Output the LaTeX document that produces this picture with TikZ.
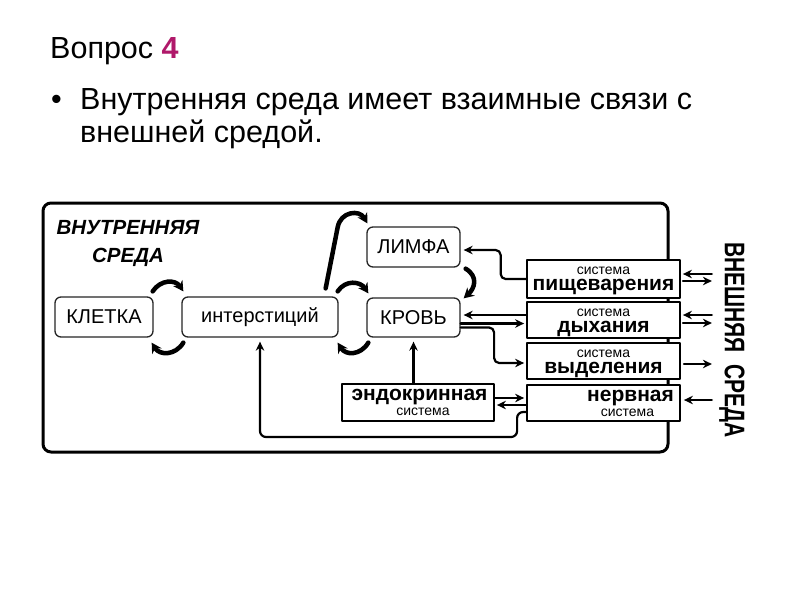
\documentclass[tikz,border=0pt]{standalone}
\usepackage{fontspec}
\setmainfont{Liberation Sans}
\usetikzlibrary{arrows.meta}
\definecolor{vopros}{RGB}{176,24,106}
\begin{document}
\begin{tikzpicture}[x=1pt, y=1pt, line cap=round, line join=round, >={Stealth[length=9pt,width=8.5pt]}]
	\tikzset{box/.style={draw=black!85, line width=1.3pt, rounded corners=6pt, fill=white, inner sep=0pt, font=\fontsize{20}{24}\selectfont},
		sysbox/.style={draw, line width=1.8pt, fill=white, minimum width=153, minimum height=36, inner sep=0pt},
		syssmall/.style={inner sep=0pt, font=\fontsize{14}{14}\selectfont},
		sysname/.style={inner sep=0pt, font=\fontsize{21}{21}\selectfont\bfseries},
		heading/.style={anchor=base west, inner sep=0pt, font=\fontsize{30.5}{30}\selectfont},
		link/.style={->, line width=2.2pt},
		swirl/.style={-{Stealth[length=10pt,width=11pt]}, line width=4.5pt}}
	\fill[white] (0,0) rectangle (800,-600);
	\useasboundingbox (0,0) rectangle (800,-600);
	% heading
	\node[heading] (ti) at (50,-58) {Вопрос {\bfseries\color{vopros}4}};
	\node[heading] (bu) at (51,-109) {•};
	\node[heading] (tx1) at (80,-109) {Внутренняя среда имеет взаимные связи с};
	\node[heading] (tx2) at (80,-142) {внешней средой.};
	% frame
	\draw[line width=3pt, rounded corners=8pt] (43,-203) rectangle (668,-452);
	\node[align=center, font=\fontsize{20.5}{28}\selectfont\bfseries\itshape] (vn) at (128,-243) {ВНУТРЕННЯЯ\\СРЕДА};
	\node[rotate=-90, inner sep=2pt, font=\fontsize{21}{21}\selectfont\bfseries] (vs) at (732,-340) {\scalebox{1}[1.35]{ВНЕШНЯЯ\ \ СРЕДА}};
	% inner boxes
	\node[box, minimum width=98, minimum height=40] (kl) at (104,-317) {КЛЕТКА};
	\node[box, minimum width=156, minimum height=40] (int) at (260,-317) {интерстиций};
	\node[box, minimum width=93, minimum height=40] (li) at (413.5,-247) {ЛИМФА};
	\node[box, minimum width=93, minimum height=39] (kr) at (413.5,-317.5) {КРОВЬ};
	% systems
	\foreach \n/\y/\h/\t in {pi/279/38/пищеварения, dy/320/36/дыхания, vy/361/36/выделения}{
		\node[sysbox, minimum height=\h] (\n) at (603.5,-\y) {};
		\node[syssmall, anchor=base] (\n-s) at ([yshift=-15]\n.north) {система};
		\node[sysname, anchor=base] (\n-t) at ([yshift=-31]\n.north) {\t};
	}
	\node[sysbox] (ne) at (603.5,-403) {};
	\node[sysname, anchor=base] (ne-t) at ([shift={(27,-17)}]ne.north) {нервная};
	\node[syssmall, anchor=base] (ne-s) at ([shift={(24,-32)}]ne.north) {система};
	\node[sysbox, minimum width=152, minimum height=37] (en) at (418,-402.5) {};
	\node[sysname, anchor=base] (en-t) at ([shift={(1.5,-17)}]en.north) {эндокринная};
	\node[syssmall, anchor=base] (en-s) at ([shift={(5,-32)}]en.north) {система};
	\foreach \n in {pi,dy,vy,ne} \coordinate (\n-o) at ([xshift=31]\n.east);
	% thick exchange arrows
	\draw[swirl] ([shift={(-1,5)}]kl.north east) .. controls +(8,12) and +(-8,12) .. ([shift={(2,5)}]int.north west);
	\draw[swirl] ([shift={(2,-5)}]int.south west) .. controls +(-8,-13) and +(8,-13) .. ([shift={(-2,-5)}]kl.south east);
	\draw[swirl] ([shift={(-1,5)}]int.north east) .. controls +(8,12) and +(-8,12) .. ([shift={(2,4)}]kr.north west);
	\draw[swirl] ([shift={(2,-5)}]kr.south west) .. controls +(-8,-13) and +(8,-13) .. ([shift={(-1,-5)}]int.south east);
	\draw[swirl] ([shift={(5,-1)}]li.south east) .. controls +(13,-8) and +(11,10) .. ([shift={(3,-1)}]kr.north east);
	\draw[swirl] ([shift={(-13,8)}]int.north east) -- ([shift={(-1,69)}]int.north east) .. controls +(3,16) and +(-8,14) .. ([shift={(1,3)}]li.north west);
	% thin links
	\draw[link, rounded corners=5pt, shorten >=3pt] (pi.west) -| ([xshift=40,yshift=-3]li.east) -- ([yshift=-3]li.east);
	\draw[link, shorten >=3pt] ([yshift=5]dy.west) -- ([yshift=2.5]kr.east);
	\draw[link, shorten >=2pt] ([yshift=-6]kr.east) -- ([yshift=-3.5]dy.west);
	\draw[link, rounded corners=5pt, shorten >=2pt] ([yshift=-10]kr.east) -| ([shift={(-32,-2)}]vy.west) -- ([yshift=-2]vy.west);
	\draw[link, shorten >=2pt] ([yshift=4.5]en.east) -- ([yshift=5]ne.west);
	\draw[link, shorten >=2pt] ([yshift=-2]ne.west) -- ([yshift=-2.5]en.east);
	\draw[link, rounded corners=6pt, shorten >=4pt] ([yshift=-9]ne.west) -| ([shift={(-9,-34)}]ne.west) -| (int.south);
	\draw[link, shorten >=4pt] ([xshift=-4.5]en.north) -- (kr.south);
	% outer links
	\draw[link, shorten >=2pt] ([yshift=5]pi-o) -- ([yshift=5]pi.east);
	\draw[link, shorten <=2pt] ([yshift=-2]pi.east) -- ([yshift=-2]pi-o);
	\draw[link, shorten >=2pt] ([yshift=5]dy-o) -- ([yshift=5]dy.east);
	\draw[link, shorten <=2pt] ([yshift=-3]dy.east) -- ([yshift=-3]dy-o);
	\draw[link, shorten <=3pt] ([yshift=-3]vy.east) -- ([yshift=-3]vy-o);
	\draw[link, shorten >=3pt] ([yshift=3]ne-o) -- ([yshift=3]ne.east);
\end{tikzpicture}
\end{document}
